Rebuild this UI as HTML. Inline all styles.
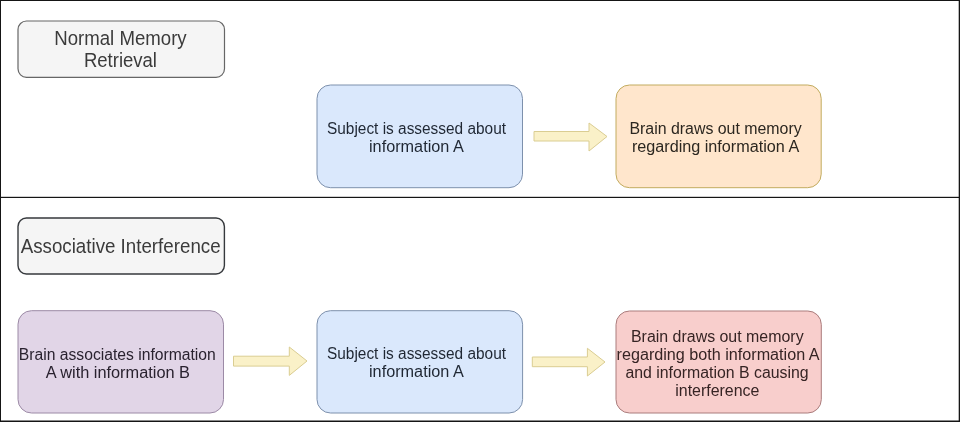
<!DOCTYPE html>
<html>
<head>
<meta charset="utf-8">
<style>
html,body{margin:0;padding:0;background:#fff;width:960px;height:422px;overflow:hidden;}
svg{display:block;will-change:transform;}
text{font-family:"Liberation Sans", sans-serif;}
.t{font-size:19.3px;fill:#3b3b3b;}
.b{font-size:16px;}
</style>
</head>
<body>
<svg width="960" height="422" viewBox="0 0 960 422">
  <rect x="0" y="0" width="960" height="422" fill="#ffffff"/>

  <!-- boxes -->
  <rect x="18" y="21" width="206.5" height="56.3" rx="8.5" ry="8.5" fill="#f5f5f5" stroke="#666666" stroke-width="1.2"/>
  <rect x="317" y="85" width="205.5" height="102.7" rx="13.5" ry="13.5" fill="#dae8fc" stroke="#7d90ac" stroke-width="1"/>
  <rect x="616" y="85" width="205.2" height="102.7" rx="13.5" ry="13.5" fill="#ffe6cc" stroke="#c2ab5e" stroke-width="1"/>
  <rect x="18" y="218" width="206.4" height="56" rx="8.4" ry="8.4" fill="#f5f5f5" stroke="#36393d" stroke-width="1.4"/>
  <rect x="18" y="310.7" width="205.5" height="102.3" rx="13.5" ry="13.5" fill="#e1d5e7" stroke="#9c8aa6" stroke-width="1"/>
  <rect x="317" y="310.7" width="205.6" height="102.3" rx="13.5" ry="13.5" fill="#dae8fc" stroke="#7d90ac" stroke-width="1"/>
  <rect x="616" y="311" width="205.3" height="102" rx="13.5" ry="13.5" fill="#f8cecc" stroke="#aa7c7c" stroke-width="1"/>

  <!-- arrows -->
  <path d="M534 131.5 H589 V123 L607 136.5 L589 151 V141 H534 Z" fill="#faf1c8" stroke="#dacd92" stroke-width="1"/>
  <path d="M233.5 356.2 H289.3 V347 L307 361 L289.3 375.4 V366.1 H233.5 Z" fill="#faf1c8" stroke="#dacd92" stroke-width="1"/>
  <path d="M532.3 357 H587.4 V348.3 L605 362 L587.4 376 V366.7 H532.3 Z" fill="#faf1c8" stroke="#dacd92" stroke-width="1"/>

  <!-- frame -->
  <rect x="0" y="0" width="960" height="1" fill="#151515"/>
  <rect x="0" y="0" width="1" height="422" fill="#151515"/>
  <rect x="958.7" y="0" width="1.3" height="422" fill="#151515"/>
  <rect x="0" y="420.5" width="960" height="1.5" fill="#151515"/>
  <rect x="0" y="196.8" width="960" height="1.2" fill="#151515"/>

  <!-- text -->
  <text class="t" x="54.20" y="44.50" textLength="132.50" lengthAdjust="spacingAndGlyphs">Normal Memory</text>
  <text class="t" x="83.90" y="67.20" textLength="73.10" lengthAdjust="spacingAndGlyphs">Retrieval</text>
  <text class="t" x="20.70" y="253.00" textLength="199.90" lengthAdjust="spacingAndGlyphs">Associative Interference</text>

  <text class="b" fill="#1f2733" x="327.00" y="133.70" textLength="179.00" lengthAdjust="spacingAndGlyphs">Subject is assessed about</text>
  <text class="b" fill="#1f2733" x="369.00" y="151.90" textLength="94.75" lengthAdjust="spacingAndGlyphs">information A</text>

  <text class="b" fill="#2c2720" x="629.40" y="133.70" textLength="172.30" lengthAdjust="spacingAndGlyphs">Brain draws out memory</text>
  <text class="b" fill="#2c2720" x="631.90" y="151.90" textLength="167.30" lengthAdjust="spacingAndGlyphs">regarding information A</text>

  <text class="b" fill="#29222f" x="18.80" y="359.65" textLength="197.00" lengthAdjust="spacingAndGlyphs">Brain associates information</text>
  <text class="b" fill="#29222f" x="45.70" y="378.00" textLength="144.30" lengthAdjust="spacingAndGlyphs">A with information B</text>

  <text class="b" fill="#1f2733" x="327.00" y="359.15" textLength="179.00" lengthAdjust="spacingAndGlyphs">Subject is assessed about</text>
  <text class="b" fill="#1f2733" x="369.00" y="377.30" textLength="94.75" lengthAdjust="spacingAndGlyphs">information A</text>

  <text class="b" fill="#362424" x="631.00" y="341.60" textLength="172.60" lengthAdjust="spacingAndGlyphs">Brain draws out memory</text>
  <text class="b" fill="#362424" x="616.60" y="359.80" textLength="202.90" lengthAdjust="spacingAndGlyphs">regarding both information A</text>
  <text class="b" fill="#362424" x="625.40" y="377.70" textLength="183.20" lengthAdjust="spacingAndGlyphs">and information B causing</text>
  <text class="b" fill="#362424" x="675.25" y="395.90" textLength="84.15" lengthAdjust="spacingAndGlyphs">interference</text>
</svg>
</body>
</html>
